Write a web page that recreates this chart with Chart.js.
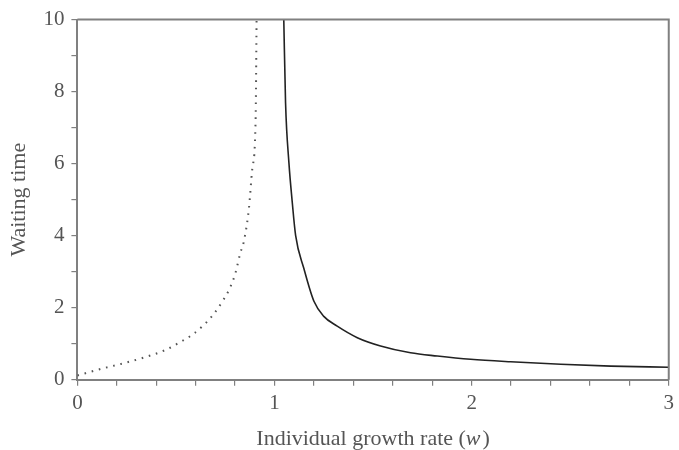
<!DOCTYPE html>
<html>
<head>
<meta charset="utf-8">
<script src="https://cdn.jsdelivr.net/npm/chart.js@4/dist/chart.umd.min.js"></script>
<style>
  html, body { margin: 0; padding: 0; background: #fff; }
  #wrap { width: 679px; height: 450px; position: relative; }
</style>
</head>
<body>
<div id="wrap"><canvas id="c" width="679" height="450"></canvas></div>
<script>
// Dotted branch (w < 1)
const dottedW = [0, 0.125, 0.235, 0.345, 0.452, 0.519, 0.585, 0.641, 0.692, 0.736, 0.773, 0.80, 0.827, 0.844, 0.87, 0.887, 0.904, 0.909];
const dottedT = [0.12, 0.31, 0.46, 0.63, 0.84, 1.04, 1.26, 1.52, 1.83, 2.18, 2.54, 2.93, 3.53, 3.83, 4.75, 5.85, 7.2, 10];
// Solid branch (w > 1)
const solidW = [1.047, 1.056, 1.073, 1.090, 1.107, 1.149, 1.200, 1.250, 1.318, 1.42, 1.538, 1.690, 1.826, 1.995, 2.198, 2.452, 2.706, 3.0];
const solidT = [10, 7.69, 6.03, 4.93, 4.01, 3.09, 2.18, 1.76, 1.49, 1.17, 0.94, 0.75, 0.66, 0.57, 0.50, 0.43, 0.38, 0.35];
// Axis labels
const xLabels = ['0', '1', '2', '3'];
const yLabels = ['0', '2', '4', '6', '8', '10'];
const xTitleParts = ['Individual growth rate (', 'w', ')'];
const yTitle = 'Waiting time';

const toPts = (xs, ys) => xs.map((x, i) => ({ x: x, y: ys[i] }));
const AXIS = '#808080';
const TXT = '#555555';
const FONT = 'Liberation Serif';

const framePlugin = {
  id: 'frame',
  afterDatasetsDraw(chart) {
    const a = chart.chartArea, ctx = chart.ctx;
    ctx.save();
    ctx.strokeStyle = AXIS;
    ctx.lineWidth = 2;
    ctx.beginPath();
    ctx.moveTo(a.left, a.top);
    ctx.lineTo(a.right, a.top);
    ctx.lineTo(a.right, a.bottom);
    ctx.stroke();
    ctx.restore();
  },
  afterDraw(chart) {
    // x-axis title with italic variable name
    const a = chart.chartArea, ctx = chart.ctx;
    ctx.save();
    ctx.fillStyle = TXT;
    ctx.textBaseline = 'middle';
    ctx.textAlign = 'left';
    const fonts = ['22px "' + FONT + '"', 'italic 22px "' + FONT + '"', '22px "' + FONT + '"'];
    let widths = xTitleParts.map((t, i) => { ctx.font = fonts[i]; return ctx.measureText(t).width; });
    const total = widths.reduce((s, w) => s + w, 0) + 2;
    let x = (a.left + a.right) / 2 - total / 2;
    const y = a.bottom + 59;
    xTitleParts.forEach((t, i) => {
      ctx.font = fonts[i];
      ctx.fillText(t, x, y);
      x += widths[i] + (i === 1 ? 2 : 0);
    });
    ctx.restore();
  }
};

new Chart(document.getElementById('c'), {
  type: 'scatter',
  data: {
    datasets: [
      {
        data: toPts(dottedW, dottedT),
        showLine: true,
        borderColor: '#555',
        borderWidth: 2,
        borderDash: [1.6, 5.8],
        pointRadius: 0,
        cubicInterpolationMode: 'monotone'
      },
      {
        data: toPts(solidW, solidT),
        showLine: true,
        borderColor: '#222',
        borderWidth: 1.6,
        pointRadius: 0,
        cubicInterpolationMode: 'monotone'
      }
    ]
  },
  options: {
    responsive: false,
    animation: false,
    layout: { padding: { top: 0, right: 9, left: 6, bottom: 29 } },
    plugins: { legend: { display: false }, tooltip: { enabled: false } },
    scales: {
      x: {
        type: 'linear', min: 0, max: 3,
        ticks: {
          stepSize: 0.2, autoSkip: false, maxRotation: 0, padding: 5,
          color: TXT, font: { family: FONT, size: 21 },
          callback: (v) => {
            const r = Math.round(v);
            return Math.abs(v - r) < 1e-6 ? xLabels[r] : '';
          }
        },
        grid: { drawOnChartArea: false, drawTicks: true, tickLength: 6, color: AXIS, lineWidth: 1.2 },
        border: { color: AXIS, width: 2 },
        title: { display: false }
      },
      y: {
        type: 'linear', min: 0, max: 10,
        ticks: {
          stepSize: 1, autoSkip: false, padding: 7,
          color: TXT, font: { family: FONT, size: 21 },
          callback: (v) => (Math.round(v) % 2 === 0 ? yLabels[Math.round(v) / 2] : '')
        },
        grid: { drawOnChartArea: false, drawTicks: true, tickLength: 6, color: AXIS, lineWidth: 1.2 },
        border: { color: AXIS, width: 2 },
        title: { display: true, text: yTitle, color: TXT, font: { family: FONT, size: 22 }, padding: { top: 0, bottom: 4 } }
      }
    }
  },
  plugins: [framePlugin]
});
</script>
</body>
</html>
